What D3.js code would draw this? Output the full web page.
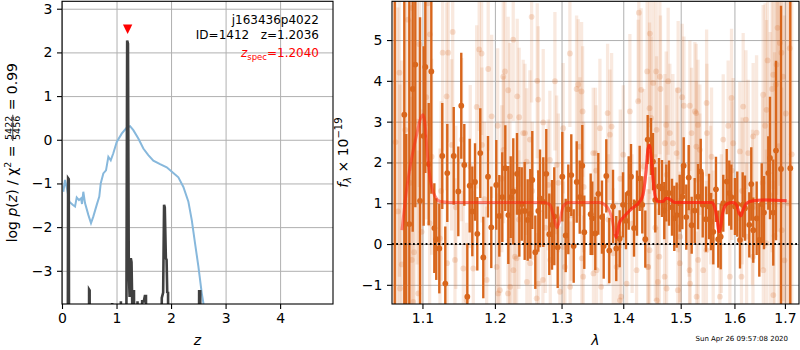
<!DOCTYPE html>
<html><head><meta charset="utf-8">
<script src="https://cdn.jsdelivr.net/npm/d3@7"></script>
<style>body{margin:0;background:#fff}svg{display:block}text{font-family:"DejaVu Sans",sans-serif}</style>
</head><body><svg id="c" width="800" height="350"></svg>
<script>
// ---------------- DATA ----------------
// left panel
const zRange = [0, 4.97];
const logpRange = [-3.76, 3.17];
const zTicks = [0, 1, 2, 3, 4];
const logpTicks = [-3, -2, -1, 0, 1, 2, 3];
// chi2-based curve (blue)
const chiZ = [0.024,0.055,0.097,0.134,0.196,0.239,0.270,0.312,0.349,0.367,0.391,0.422,0.483,0.532,0.574,0.637,0.684,0.710,0.758,0.807,0.850,0.894,0.941,1.004,1.095,1.187,1.248,1.308,1.400,1.492,1.583,1.675,1.798,1.921,2.042,2.134,2.226,2.318,2.380,2.440,2.501,2.563,2.593,2.62];
const chiVal = [-1.19,-0.92,-1.15,-1.42,-1.49,-1.53,-1.32,-1.38,-1.34,-1.47,-1.19,-1.45,-1.72,-1.91,-1.76,-1.49,-1.30,-1.00,-0.77,-0.70,-0.39,-0.47,-0.31,-0.05,0.14,0.28,0.31,0.22,0.03,-0.20,-0.35,-0.48,-0.56,-0.63,-0.76,-0.86,-1.08,-1.42,-1.84,-2.37,-2.90,-3.51,-3.74,-4.2];
// log p(z) (dark)
const pzZ = [0.00,0.100,0.112,0.124,0.135,0.49,0.497,0.507,0.515,0.90,0.92,0.935,1.06,1.08,1.10,1.17,1.195,1.21,1.225,1.24,1.262,1.275,1.29,1.30,1.32,1.335,1.37,1.385,1.40,1.45,1.47,1.50,1.52,1.54,1.555,1.80,1.83,1.855,1.872,1.885,1.905,1.918,1.93,1.945,1.96,2.50,2.515,2.535,2.55,4.97];
const pzLog = [-9,-9,-0.88,-0.90,-9,-9,-3.43,-3.45,-9,-9,-3.74,-9,-9,-3.70,-9,-9,2.27,2.20,-3.0,-3.6,-2.71,-2.80,-3.9,-3.47,-3.47,-9,-9,-3.70,-9,-9,-3.70,-3.70,-3.58,-3.58,-9,-9,-3.62,-3.50,-1.49,-1.55,-2.71,-2.75,-3.49,-3.50,-9,-9,-3.47,-3.47,-9,-9];
const zPeak = 1.2036, zMarkerY = 2.53;
const annot1 = "j163436p4022";
const annot2 = "ID=1412   z=1.2036";
const zspecText = "=1.2040";

// right panel
const waveRange = [1.0605, 1.729];
const fluxRange = [-1.47, 5.95];
const waveTicks = [1.1, 1.2, 1.3, 1.4, 1.5, 1.6, 1.7];
const fluxTicks = [-1, 0, 1, 2, 3, 4, 5];
// main spectrum points
const darkWave = [1.0640,1.0763,1.0788,1.0828,1.0872,1.0906,1.0968,1.1016,1.1038,1.1083,1.1118,1.1158,1.1184,1.1225,1.1265,1.1306,1.1333,1.1421,1.1484,1.1525,1.1567,1.1609,1.1642,1.1679,1.1717,1.1749,1.1791,1.1834,1.1901,1.1948,1.2020,1.2064,1.2107,1.2151,1.2195,1.2230,1.2268,1.2323,1.2357,1.2393,1.2437,1.2482,1.2521,1.2551,1.2597,1.2642,1.2668,1.2718,1.2764,1.2810,1.2852,1.2887,1.2940,1.3012,1.3065,1.3106,1.3153,1.3191,1.3239,1.3287,1.3328,1.3360,1.3463,1.3489,1.3538,1.3587,1.3647,1.3675,1.3718,1.3767,1.3829,1.3883,1.3940,1.3996,1.4046,1.4092,1.4131,1.4182,1.4233,1.4279,1.4324,1.4376,1.4417,1.4474,1.4509,1.4549,1.4614,1.4667,1.4707,1.4743,1.4791,1.4844,1.4885,1.4928,1.4982,1.5029,1.5054,1.5101,1.5145,1.5199,1.5254,1.5315,1.5365,1.5402,1.5463,1.5519,1.5556,1.5599,1.5649,1.5693,1.5738,1.5787,1.5852,1.5901,1.5940,1.6010,1.6055,1.6107,1.6159,1.6204,1.6288,1.6327,1.6366,1.6433,1.6485,1.6533,1.6578,1.6664,1.6698,1.6764,1.6819,1.6920,1.7110];
const darkFlux = [7.0,3.17,-2.0,0.49,3.80,4.40,1.06,2.65,4.34,1.96,4.23,0.39,0.12,-0.11,2.16,-0.97,1.74,2.16,1.29,3.39,1.94,-1.29,1.43,0.80,1.52,0.25,2.23,-0.33,1.65,0.41,1.45,0.69,1.15,1.86,0.71,1.15,1.29,1.72,0.79,0.98,0.81,0.59,0.74,1.57,-0.20,0.81,1.12,1.03,1.72,0.24,0.47,0.68,-0.08,1.65,0.21,0.85,1.69,-0.05,1.52,1.15,1.92,0.29,0.73,0.63,0.26,1.23,0.66,-0.05,1.67,-0.16,0.92,-0.11,0.13,0.96,0.57,1.25,1.65,0.39,1.00,1.61,0.96,0.12,2.56,2.39,2.02,1.08,1.41,1.36,0.82,1.25,1.25,0.90,0.63,0.71,1.00,1.16,1.92,0.66,1.63,0.46,0.82,1.16,1.78,0.96,0.61,0.92,0.55,0.30,1.34,0.12,0.18,1.00,1.53,1.25,1.15,0.92,0.98,0.10,0.96,0.88,0.47,1.47,0.34,0.63,0.10,0.98,0.77,1.74,2.11,0.77,2.29,1.84,1.86];
const darkErr = [9.0,5.5,4.7,5.5,3.5,3.5,4.5,2.2,2.6,1.5,3.0,1.1,1.0,1.1,1.3,1.4,1.2,1.2,1.1,1.3,1.0,1.3,1.15,1.1,0.95,0.9,1.1,1.0,1.0,1.0,1.1,1.0,1.1,1.05,1.2,1.0,1.3,1.0,1.1,0.9,1.2,1.0,1.1,1.2,0.9,1.0,1.2,1.1,1.1,1.0,1.1,1.2,1.0,1.1,0.9,1.1,1.0,0.9,1.0,0.9,1.0,0.9,1.0,0.9,0.9,1.0,0.9,0.8,0.9,0.8,0.9,0.8,0.7,0.8,0.7,0.9,0.8,0.7,0.8,0.8,0.7,0.7,0.6,0.7,0.7,0.8,0.7,0.7,0.7,0.7,0.8,0.7,0.8,0.8,0.7,0.8,0.7,0.8,0.8,0.7,0.8,0.8,0.8,0.8,0.8,0.8,0.7,0.8,0.8,0.7,0.8,0.7,0.8,0.8,0.8,0.7,0.8,0.7,0.8,0.8,0.8,0.9,0.8,0.9,0.9,1.0,0.9,0.9,1.5,1.3,2.2,4.0,7.0];
// other exposures (faint)
const faintWave = [1.0858,1.1100,1.1407,1.1776,1.1270,1.1346,1.1810,1.2267,1.2541,1.3131,1.1904,1.2146,1.2121,1.2193,1.2626,1.2897,1.3237,1.3263,1.3316,1.3333,1.2326,1.2641,1.1324,1.1740,1.1953,1.2040,1.2218,1.2355,1.2415,1.2515,1.2717,1.3026,1.3613,1.3805,1.3777,1.3739,1.4112,1.4253,1.4265,1.4455,1.4408,1.4513,1.4629,1.4776,1.4640,1.4954,1.5027,1.5058,1.5166,1.5258,1.5474,1.5880,1.5944,1.6169,1.6222,1.6364,1.6431,1.6562,1.6762,1.6830,1.6930,1.6896,1.6816,1.6629,1.5197,1.5480,1.5976,1.6104,1.6266,1.4806,1.4572,1.4718,1.4926,1.5349,1.5566,1.5786,1.4000,1.3504,1.3289,1.2819,1.2466,1.2125,1.1815,1.1530,1.1392,1.1122,1.0860,1.0707,1.0945,1.0880,1.1095,1.1234,1.1438,1.1553,1.1692,1.1882,1.2048,1.2222,1.2292,1.2520,1.2712,1.2825,1.2974,1.3135,1.3343,1.3559,1.3889,1.4057,1.4226,1.4425,1.4620,1.4748,1.4984,1.5170,1.5411,1.5470,1.5912,1.6136,1.6360,1.6565,1.6765,1.5723,1.5289,1.4575,1.3944,1.2617,1.1600,1.1330,1.2215,1.3030,1.3833,1.4450,1.4990,1.5597,1.6235,1.6625,1.6935,1.2441,1.2793,1.2923,1.3540,1.2270,1.2317,1.2190,1.2470,1.2645,1.3053,1.3320,1.3508,1.2072,1.2025,1.4565,1.4304,1.4449,1.4476,1.4741,1.4860,1.5282,1.5315,1.5285,1.4422,1.4594,1.4713,1.3965,1.3634,1.4949,1.5161,1.5318,1.0650,1.0680,1.0700,1.0730,1.0775,1.0810,1.0840,1.0890,1.0930,1.0960,1.0990,1.1050,1.1070,1.6600,1.6650,1.6700,1.6740,1.6790,1.6850,1.6880,1.6960,1.6990,1.7020,1.7060,1.7100,1.7140,1.125,1.145,1.165,1.185,1.21,1.235,1.255,1.275,1.295,1.315,1.335,1.355,1.375,1.395,1.415,1.435,1.455,1.475,1.495,1.515,1.535,1.555,1.575,1.595,1.615,1.635,1.655];
const faintFlux = [5.79,5.14,5.20,4.77,4.69,4.69,4.67,5.01,5.57,4.67,4.29,4.23,4.10,3.77,4.00,3.99,3.80,3.91,3.74,3.25,3.62,3.54,3.62,3.36,3.13,2.90,3.13,3.11,2.72,2.56,2.98,2.84,2.84,2.88,2.68,3.21,3.25,3.50,5.67,5.16,4.23,3.95,4.10,3.99,3.80,3.77,3.60,3.39,3.39,3.25,3.46,2.90,3.58,3.37,3.05,2.64,2.73,3.66,4.15,4.40,4.69,4.93,3.91,3.29,2.72,2.72,2.47,2.27,2.23,2.72,2.80,2.47,2.23,2.31,2.14,2.56,2.19,2.23,2.39,2.06,2.02,2.31,2.43,2.56,2.43,2.14,-0.39,-1.09,-1.21,-1.42,0.51,0.14,-0.39,-0.60,-0.60,-0.88,-1.21,-1.05,-0.31,-0.47,-0.88,-0.39,-1.17,-1.05,-0.80,-0.64,-0.56,-0.97,-0.64,-0.56,-0.31,-1.09,-0.47,-0.97,-0.64,-0.15,-0.80,-0.80,-0.31,-0.64,-1.25,-1.29,-1.29,-1.38,-1.38,-1.33,-1.38,-0.47,0.10,-0.07,-0.23,-0.15,0.18,0.10,0.18,0.02,0.34,2.72,1.45,1.94,2.23,-0.64,-0.35,-1.21,-0.93,-0.97,-0.56,-0.35,-0.72,-1.13,-0.56,4.23,3.78,3.33,3.09,2.92,2.47,3.21,2.92,2.39,-0.56,-0.93,-0.80,-1.29,-1.05,-1.13,-0.64,-0.39,2.5,0.8,4.2,-0.5,2.8,5.5,1.5,-0.2,3.0,4.9,0.3,3.6,5.9,2.9,4.5,1.2,3.8,0.2,5.3,2.4,4.1,-0.4,3.2,1.0,4.8,2.2,1.3,0.9,1.9,1.1,1.6,0.6,1.3,0.4,1.5,0.7,1.4,1.8,0.6,1.6,0.5,1.9,0.4,1.7,1.4,0.8,1.6,1.2,0.5,1.8,1.3,0.9,1.5];
const faintErr = [4.0,2.5,2.2,2.0,2.4,2.2,2.0,2.0,2.1,1.8,2.0,1.9,2.1,1.8,1.9,1.7,1.8,1.6,1.7,1.6,1.9,1.8,2.3,2.0,2.0,1.9,1.8,1.7,1.8,1.7,1.8,1.6,1.7,1.8,1.6,1.7,1.9,2.0,2.2,2.3,2.1,2.0,1.9,1.8,1.8,1.7,1.8,1.7,1.6,1.7,1.8,1.6,1.7,1.8,1.7,1.8,1.9,2.2,2.8,3.2,3.8,3.5,3.0,2.2,1.6,1.7,1.6,1.7,1.8,1.7,1.8,1.7,1.6,1.6,1.7,1.6,1.7,1.6,1.7,1.7,1.8,1.8,1.9,2.0,2.1,2.4,4.0,5.0,3.5,4.0,2.6,2.2,2.0,1.9,1.9,1.8,1.8,1.7,1.7,1.6,1.7,1.6,1.6,1.6,1.5,1.6,1.6,1.7,1.7,1.9,1.8,1.7,1.6,1.6,1.6,1.7,1.6,1.7,1.8,2.2,2.8,1.6,1.6,1.8,1.6,1.6,1.9,2.1,1.7,1.6,1.6,1.8,1.6,1.7,1.8,2.3,3.5,1.7,1.6,1.7,1.6,1.8,1.7,1.8,1.7,1.6,1.6,1.6,1.6,1.8,1.8,2.1,2.0,2.1,2.0,1.8,1.7,1.7,1.6,1.6,1.9,1.8,1.7,1.6,1.6,1.6,1.6,1.6,6.0,5.0,5.0,5.0,4.5,4.0,4.0,4.0,3.5,3.5,3.0,3.0,3.0,3.0,3.5,4.0,4.0,4.5,5.0,5.0,5.5,6.0,6.0,7.0,7.0,8.0,2.2,2.0,2.0,1.9,1.8,1.7,1.7,1.6,1.7,1.6,1.6,1.6,1.6,1.7,1.7,1.9,1.8,1.7,1.6,1.6,1.6,1.7,1.7,1.7,1.8,1.9,2.1];
// best-fit template
const modelWave = [1.0733,1.0798,1.0863,1.0928,1.0971,1.1007,1.1038,1.1060,1.1091,1.1127,1.1171,1.1238,1.1369,1.2000,1.2743,1.2819,1.2871,1.2928,1.2974,1.3026,1.3104,1.3613,1.3723,1.3805,1.3861,1.3883,1.3932,1.4012,1.4138,1.4279,1.4334,1.4391,1.4420,1.4446,1.4476,1.4507,1.4547,1.4594,1.4683,1.4741,1.4801,1.4890,1.5573,1.5629,1.5672,1.5704,1.5736,1.5774,1.5837,1.5912,1.5976,1.6041,1.6091,1.6124,1.6169,1.6235,1.6364,1.6629,1.7033];
const modelFlux = [0.34,1.41,2.15,2.72,3.05,3.17,2.88,2.31,1.74,1.37,1.16,1.04,1.02,1.02,1.02,0.96,0.71,0.40,0.59,0.92,1.02,1.02,0.92,0.67,0.25,0.16,0.51,0.67,0.86,1.04,1.20,1.82,2.31,2.42,2.14,1.65,1.16,1.04,1.04,1.12,1.10,1.02,1.02,0.88,0.59,0.30,0.40,0.75,0.96,1.01,1.02,0.96,0.75,0.69,0.84,1.00,1.06,1.08,1.06];
const modelOverlapStart = 1.385;
const stamp = "Sun Apr 26 09:57:08 2020";

// ---------------- DRAW ----------------
const svg = d3.select("#c");
const GRID = "#b0b0b0", ORANGE = "#d8661c";
const L = {x0:62, x1:333, y0:1.3, y1:304};
const R = {x0:392, x1:799, y0:1.3, y1:304};

const xL = d3.scaleLinear().domain(zRange).range([L.x0, L.x1]);
const yL = d3.scaleLinear().domain(logpRange).range([L.y1, L.y0]);
const xR = d3.scaleLog().domain(waveRange).range([R.x0, R.x1]);
const yR = d3.scaleLinear().domain(fluxRange).range([R.y1, R.y0]);

const defs = svg.append("defs");
[["clipL", L], ["clipR", R]].forEach(([id, P]) => {
  defs.append("clipPath").attr("id", id).append("rect")
    .attr("x", P.x0).attr("y", P.y0).attr("width", P.x1 - P.x0).attr("height", P.y1 - P.y0);
});

function grid(P, xs, ys, xt, yt) {
  const g = svg.append("g");
  g.append("g").attr("transform", `translate(0,${P.y1})`)
    .call(d3.axisBottom(xs).tickValues(xt).tickSize(-(P.y1 - P.y0)).tickFormat(""))
    .call(a => { a.select(".domain").remove(); a.selectAll("line").attr("stroke", GRID).attr("stroke-width", 1); });
  g.append("g").attr("transform", `translate(${P.x0},0)`)
    .call(d3.axisLeft(ys).tickValues(yt).tickSize(-(P.x1 - P.x0)).tickFormat(""))
    .call(a => { a.select(".domain").remove(); a.selectAll("line").attr("stroke", GRID).attr("stroke-width", 1); });
}
function axes(P, xs, ys, xt, yt, xf, yf) {
  const ax = svg.append("g");
  ax.append("g").attr("transform", `translate(0,${P.y1})`)
    .call(d3.axisBottom(xs).tickValues(xt).tickSize(5).tickPadding(4.5).tickFormat(xf))
    .call(a => { a.select(".domain").remove(); a.selectAll("line").attr("stroke", "#000").attr("stroke-width", 1.1);
      a.selectAll("text").attr("font-size", 14).attr("font-family", "DejaVu Sans").attr("fill", "#000"); });
  ax.append("g").attr("transform", `translate(${P.x0},0)`)
    .call(d3.axisLeft(ys).tickValues(yt).tickSize(5).tickPadding(4.5).tickFormat(yf))
    .call(a => { a.select(".domain").remove(); a.selectAll("line").attr("stroke", "#000").attr("stroke-width", 1.1);
      a.selectAll("text").attr("font-size", 14).attr("font-family", "DejaVu Sans").attr("fill", "#000"); });
  svg.append("rect").attr("x", P.x0).attr("y", P.y0).attr("width", P.x1 - P.x0).attr("height", P.y1 - P.y0)
    .attr("fill", "none").attr("stroke", "#000").attr("stroke-width", 1.1);
}

// ----- left panel -----
grid(L, xL, yL, zTicks, logpTicks);
const pL = svg.append("g").attr("clip-path", "url(#clipL)");
pL.append("path").datum(d3.range(chiZ.length))
  .attr("d", d3.line().x(i => xL(chiZ[i])).y(i => yL(chiVal[i])))
  .attr("fill", "none").attr("stroke", "#87b8dc").attr("stroke-width", 2);
pL.append("path").datum(d3.range(pzZ.length))
  .attr("d", d3.line().x(i => xL(pzZ[i])).y(i => yL(pzLog[i])))
  .attr("fill", "none").attr("stroke", "#404040").attr("stroke-width", 2.6).attr("stroke-linejoin", "miter");
// peak marker (downward triangle)
{
  const cx = xL(zPeak), cy = yL(zMarkerY), h = 4.7;
  svg.append("path").attr("d", `M${cx - h},${cy - h}L${cx + h},${cy - h}L${cx},${cy + h}Z`).attr("fill", "red");
}
axes(L, xL, yL, zTicks, logpTicks, d3.format("d"), d3.format("d"));
// annotations
svg.append("text").attr("x", 319).attr("y", 24).attr("text-anchor", "end").attr("font-size", 12).text(annot1);
svg.append("text").attr("x", 319).attr("y", 38.5).attr("text-anchor", "end").attr("font-size", 12).attr("xml:space", "preserve").text(annot2);
{
  const t = svg.append("text").attr("x", 319).attr("y", 57).attr("text-anchor", "end").attr("font-size", 12).attr("fill", "red");
  t.append("tspan").attr("font-style", "italic").text("z");
  t.append("tspan").attr("font-size", 8.5).attr("dy", 3).text("spec");
  t.append("tspan").attr("dy", -3).text(zspecText);
}
// x label
svg.append("text").attr("x", (L.x0 + L.x1) / 2).attr("y", 345).attr("text-anchor", "middle")
  .attr("font-size", 14).attr("font-style", "italic").text("z");
// y label with fraction
{
  const g = svg.append("g").attr("transform", `translate(17,${(L.y0 + L.y1) / 2}) rotate(-90)`);
  const t1 = g.append("text").attr("font-size", 14);
  t1.append("tspan").text("log ");
  t1.append("tspan").attr("font-style", "italic").text("p");
  t1.append("tspan").text("(");
  t1.append("tspan").attr("font-style", "italic").text("z");
  t1.append("tspan").text(") / \u03c7");
  t1.append("tspan").attr("font-size", 9.5).attr("dy", -6).text("2");
  t1.append("tspan").attr("dy", 6).attr("xml:space", "preserve").text(" = ");
  const w1 = t1.node().getComputedTextLength();
  const num = g.append("text").attr("font-size", 9.5).text("5422");
  const den = g.append("text").attr("font-size", 9.5).text("5456");
  const wf = Math.max(num.node().getComputedTextLength(), den.node().getComputedTextLength()) + 2;
  const t3 = g.append("text").attr("font-size", 14).attr("xml:space", "preserve").text(" = 0.99");
  const w3 = t3.node().getComputedTextLength();
  const x0 = -(w1 + wf + w3) / 2;
  t1.attr("x", x0);
  num.attr("x", x0 + w1 + 1).attr("y", -5.5);
  den.attr("x", x0 + w1 + 1).attr("y", 3.2);
  g.append("line").attr("x1", x0 + w1).attr("x2", x0 + w1 + wf).attr("y1", -4.2).attr("y2", -4.2)
    .attr("stroke", "#000").attr("stroke-width", 0.8);
  t3.attr("x", x0 + w1 + wf);
}

// ----- right panel -----
grid(R, xR, yR, waveTicks, fluxTicks);
const pR = svg.append("g").attr("clip-path", "url(#clipR)");
const fi = d3.range(faintWave.length);
pR.append("g").selectAll("line").data(fi).join("line")
  .attr("x1", i => xR(faintWave[i])).attr("x2", i => xR(faintWave[i]))
  .attr("y1", i => yR(faintFlux[i] - faintErr[i])).attr("y2", i => yR(faintFlux[i] + faintErr[i]))
  .attr("stroke", ORANGE).attr("stroke-opacity", 0.14).attr("stroke-width", 3.3);
pR.append("g").selectAll("circle").data(fi).join("circle")
  .attr("cx", i => xR(faintWave[i])).attr("cy", i => yR(faintFlux[i])).attr("r", 2.9)
  .attr("fill", ORANGE).attr("fill-opacity", 0.2);
const di = d3.range(darkWave.length);
pR.append("g").selectAll("line").data(di).join("line")
  .attr("x1", i => xR(darkWave[i])).attr("x2", i => xR(darkWave[i]))
  .attr("y1", i => yR(darkFlux[i] - darkErr[i])).attr("y2", i => yR(darkFlux[i] + darkErr[i]))
  .attr("stroke", ORANGE).attr("stroke-width", 2.4);
pR.append("g").selectAll("circle").data(di).join("circle")
  .attr("cx", i => xR(darkWave[i])).attr("cy", i => yR(darkFlux[i])).attr("r", 2.9)
  .attr("fill", ORANGE);
const mi = d3.range(modelWave.length);
const mline = d3.line().curve(d3.curveMonotoneX).x(i => xR(modelWave[i])).y(i => yR(modelFlux[i]));
pR.append("path").datum(mi).attr("d", mline).attr("fill", "none")
  .attr("stroke", "#ff2010").attr("stroke-opacity", 0.5).attr("stroke-width", 3);
pR.append("path").datum(mi.filter(i => modelWave[i] >= modelOverlapStart)).attr("d", mline).attr("fill", "none")
  .attr("stroke", "#ff2010").attr("stroke-opacity", 0.5).attr("stroke-width", 3);
pR.append("line").attr("x1", R.x0).attr("x2", R.x1).attr("y1", yR(0)).attr("y2", yR(0))
  .attr("stroke", "#000").attr("stroke-width", 2).attr("stroke-dasharray", "1.8,2.4");
axes(R, xR, yR, waveTicks, fluxTicks, d3.format(".1f"), d3.format("d"));
svg.append("text").attr("x", (R.x0 + R.x1) / 2).attr("y", 345).attr("text-anchor", "middle")
  .attr("font-size", 14).attr("font-style", "italic").text("\u03bb");
{
  const g = svg.append("g").attr("transform", `translate(348,${(R.y0 + R.y1) / 2}) rotate(-90)`);
  const t = g.append("text").attr("font-size", 14).attr("text-anchor", "middle");
  t.append("tspan").attr("font-style", "italic").text("f");
  t.append("tspan").attr("font-style", "italic").attr("font-size", 10).attr("dy", 3).text("\u03bb");
  t.append("tspan").attr("dy", -3).attr("xml:space", "preserve").text(" \u00d7 10");
  t.append("tspan").attr("font-size", 10).attr("dy", -6).text("\u221219");
}
svg.append("text").attr("x", 788).attr("y", 341).attr("text-anchor", "end").attr("font-size", 7).text(stamp);
</script></body></html>
